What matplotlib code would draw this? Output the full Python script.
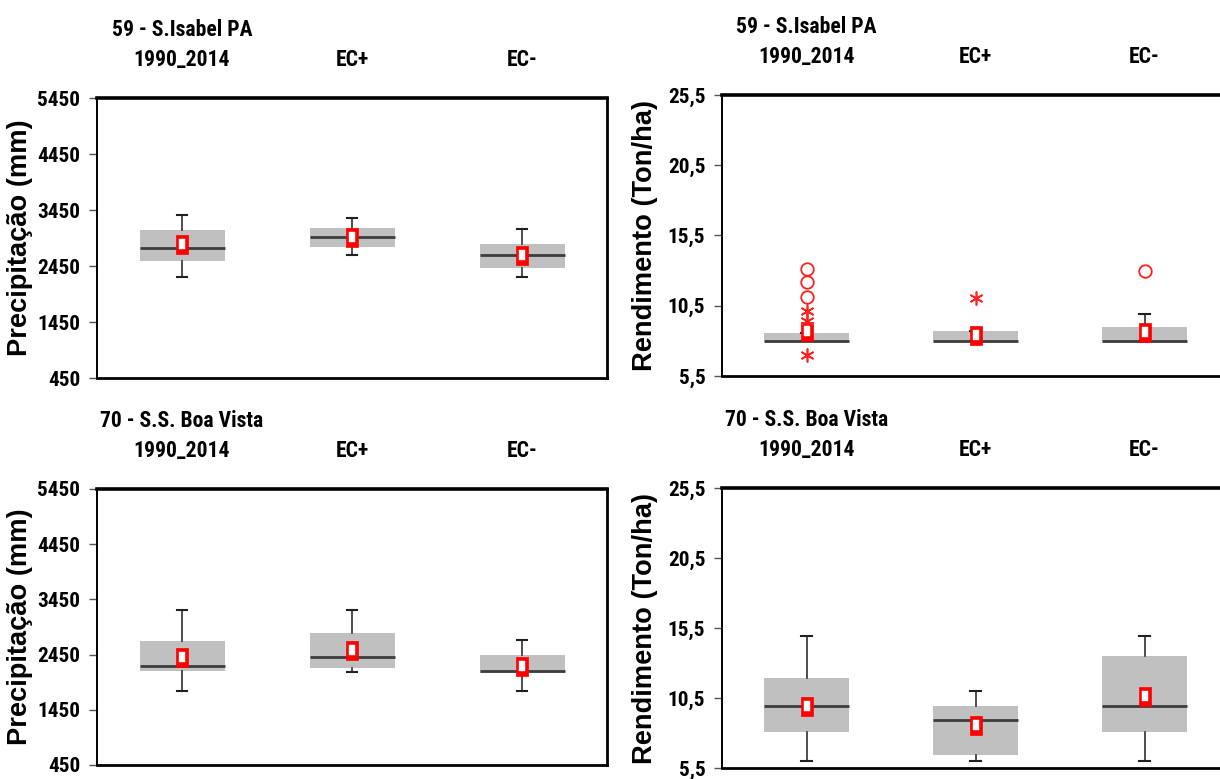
import matplotlib
matplotlib.use("Agg")
import matplotlib.pyplot as plt
from matplotlib import font_manager

# ---------------- data ----------------
groups = ["1990_2014", "EC+", "EC-"]
stations = ["59 - S.Isabel PA", "70 - S.S. Boa Vista"]

# precipitation (mm)
prec_59_whislo = [2255, 2646, 2255]
prec_59_q1 = [2543, 2790, 2417]
prec_59_med = [2777, 2965, 2646]
prec_59_q3 = [3101, 3126, 2843]
prec_59_whishi = [3365, 3306, 3118]
prec_59_mean = [2843, 2965, 2646]

prec_70_whislo = [1783, 2128, 1783]
prec_70_q1 = [2146, 2208, 2117]
prec_70_med = [2250, 2408, 2159]
prec_70_q3 = [2692, 2844, 2444]
prec_70_whishi = [3250, 3250, 2723]
prec_70_mean = [2408, 2528, 2250]

# yield (ton/ha)
yld_59_whislo = [7.97, 7.97, 7.97]
yld_59_q1 = [7.97, 7.97, 7.97]
yld_59_med = [7.97, 7.97, 7.97]
yld_59_q3 = [8.54, 8.73, 8.97]
yld_59_whishi = [8.54, 8.73, 9.91]
yld_59_mean = [8.70, 8.42, 8.65]
yld_59_out_circle = [[13.1, 12.2, 11.15], [], [13.0]]
yld_59_out_star = [[10.1, 9.4, 7.0], [11.03], []]

yld_70_whislo = [6.02, 6.02, 6.02]
yld_70_q1 = [8.07, 6.45, 8.07]
yld_70_med = [9.94, 8.94, 9.94]
yld_70_q3 = [11.92, 9.96, 13.5]
yld_70_whishi = [14.93, 11.03, 14.93]
yld_70_mean = [9.94, 8.59, 10.65]

prec_ticks = [450, 1450, 2450, 3450, 4450, 5450]
yld_ticks = [5.5, 10.5, 15.5, 20.5, 25.5]
yld_ticklabels = ["5,5", "10,5", "15,5", "20,5", "25,5"]

# ---------------- fonts ----------------
bold_names = {f.name for f in font_manager.fontManager.ttflist if int(f.weight) >= 700}
all_names = {f.name for f in font_manager.fontManager.ttflist}
narrow = "Liberation Sans"
for cand in ["Liberation Sans Narrow", "Arial Narrow", "Roboto Condensed",
             "Barlow Semi Condensed", "Fira Sans Condensed", "Asap Condensed"]:
    if cand in bold_names:
        narrow = cand
        break
wide = "Liberation Sans" if "Liberation Sans" in all_names else "DejaVu Sans"

DPI = 100
fig = plt.figure(figsize=(12.2, 7.79), dpi=DPI)
W, H = 1220, 779
renderer = fig.canvas.get_renderer()


def fit_size(text, family, target_px, base=20.0):
    t = fig.text(0, 0, text, fontfamily=family, fontweight="bold", fontsize=base)
    w = t.get_window_extent(renderer=renderer).width
    t.remove()
    return base * target_px / w


HEAD_FS = fit_size("1990_2014", narrow, 96)
TICK_FS = fit_size("5450", narrow, 43)
LAB_FS = (fit_size("Precipitação (mm)", wide, 238) + fit_size("Rendimento (Ton/ha)", wide, 268)) / 2


def axes_px(left, top, right, bottom):
    return fig.add_axes([left / W, 1 - bottom / H, (right - left) / W, (bottom - top) / H])


ax_tl = axes_px(97, 98, 607, 378)
ax_tr = axes_px(722, 95, 1229, 376)
ax_bl = axes_px(97, 489, 607, 765)
ax_br = axes_px(722, 488, 1229, 768)

positions = [0.5, 1.5, 2.5]
outer_marker = [(-0.29, -0.5), (0.29, -0.5), (0.29, 0.5), (-0.29, 0.5), (-0.29, -0.5)]
inner_marker = [(-0.28, -0.5), (0.28, -0.5), (0.28, 0.5), (-0.28, 0.5), (-0.28, -0.5)]


def make_stats(wl, q1, med, q3, wh, mean):
    return [dict(whislo=a, q1=b, med=c, q3=d, whishi=e, mean=f, fliers=[], label="")
            for a, b, c, d, e, f in zip(wl, q1, med, q3, wh, mean)]


def draw(ax, stats, means, station, ylim, ticks, ticklabels, ylabel, label_x, circles=None, stars=None):
    ax.bxp(stats, positions=positions, widths=0.5, patch_artist=True,
           showmeans=True, showfliers=False, capwidths=0.06,
           boxprops=dict(facecolor="#c0c0c0", edgecolor="none", linewidth=0),
           medianprops=dict(color="#3c3c3c", linewidth=2.0, solid_capstyle="butt"),
           whiskerprops=dict(color="#303030", linewidth=1.2),
           capprops=dict(color="#202020", linewidth=1.5),
           meanprops=dict(marker=outer_marker, markersize=19 * 72 / DPI,
                          markerfacecolor="#ff0000", markeredgecolor="#ff0000",
                          markeredgewidth=0.5, linestyle="none"),
           zorder=2)
    # white interior of the mean marker
    ax.plot(positions, means, linestyle="none", marker=inner_marker, markersize=9.5 * 72 / DPI,
            markerfacecolor="white", markeredgecolor="white", markeredgewidth=0.3, zorder=4)
    if circles is not None:
        for p, vals in zip(positions, circles):
            if vals:
                ax.plot([p] * len(vals), vals, linestyle="none", marker="o", markersize=9,
                        markerfacecolor="none", markeredgecolor="#ff2020", markeredgewidth=1.3,
                        zorder=3)
    if stars is not None:
        for p, vals in zip(positions, stars):
            if vals:
                ax.plot([p] * len(vals), vals, linestyle="none", marker=(6, 2, 0), markersize=10,
                        markeredgecolor="#ff2020", markeredgewidth=1.2, zorder=3)
    ax.set_xlim(0, 3)
    ax.set_ylim(*ylim)
    ax.set_yticks(ticks)
    ax.set_yticklabels(ticklabels, fontfamily=narrow, fontweight="bold", fontsize=TICK_FS)
    ax.set_xticks([])
    ax.tick_params(axis="y", direction="out", length=6, width=1.0, color="#555555", pad=6)
    ax.spines["top"].set_linewidth(2.6)
    ax.spines["right"].set_linewidth(2.0)
    ax.spines["bottom"].set_linewidth(2.0)
    ax.spines["left"].set_linewidth(1.4)
    for s in ax.spines.values():
        s.set_color("black")
    trans = ax.get_xaxis_transform()
    for p, g in zip(positions, groups):
        ax.annotate(g, xy=(p, 1), xycoords=trans, xytext=(0, 38 * 72 / DPI),
                    textcoords="offset points", ha="center", va="center",
                    fontfamily=narrow, fontweight="bold", fontsize=HEAD_FS)
    ax.annotate(station, xy=(positions[0], 1), xycoords=trans, xytext=(0, 68 * 72 / DPI),
                textcoords="offset points", ha="center", va="center",
                fontfamily=narrow, fontweight="bold", fontsize=HEAD_FS)
    ax.set_ylabel(ylabel, fontfamily=wide, fontweight="bold", fontsize=LAB_FS, va="center")
    bb = ax.get_position()
    ax.yaxis.set_label_coords(label_x / W, (bb.y0 + bb.y1) / 2, transform=fig.transFigure)


prec_labels = [str(t) for t in prec_ticks]
draw(ax_tl, make_stats(prec_59_whislo, prec_59_q1, prec_59_med, prec_59_q3, prec_59_whishi, prec_59_mean),
     prec_59_mean, stations[0], (450, 5450), prec_ticks, prec_labels, "Precipitação (mm)", 20)
draw(ax_bl, make_stats(prec_70_whislo, prec_70_q1, prec_70_med, prec_70_q3, prec_70_whishi, prec_70_mean),
     prec_70_mean, stations[1], (450, 5450), prec_ticks, prec_labels, "Precipitação (mm)", 20)
draw(ax_tr, make_stats(yld_59_whislo, yld_59_q1, yld_59_med, yld_59_q3, yld_59_whishi, yld_59_mean),
     yld_59_mean, stations[0], (5.5, 25.5), yld_ticks, yld_ticklabels, "Rendimento (Ton/ha)", 645,
     circles=yld_59_out_circle, stars=yld_59_out_star)
draw(ax_br, make_stats(yld_70_whislo, yld_70_q1, yld_70_med, yld_70_q3, yld_70_whishi, yld_70_mean),
     yld_70_mean, stations[1], (5.5, 25.5), yld_ticks, yld_ticklabels, "Rendimento (Ton/ha)", 645)

fig.savefig("out.png", dpi=DPI)
